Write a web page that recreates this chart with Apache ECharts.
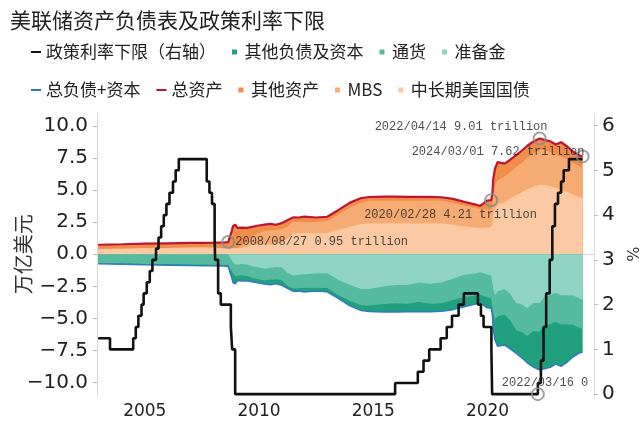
<!DOCTYPE html>
<html><head><meta charset="utf-8">
<script src="https://cdn.jsdelivr.net/npm/echarts@6/dist/echarts.min.js"></script>
<style>html,body{margin:0;padding:0;background:#fff}#c{width:643px;height:427px}</style>
</head><body><div id="c"></div>
<script>
// ---- balance sheet data (trillion USD) ----
const dates = ['2002-12-18','2004-01-07','2005-01-05','2006-01-04','2007-01-03','2007-08-01','2007-12-19','2008-03-26','2008-06-25','2008-08-27','2008-09-17','2008-10-01','2008-10-22','2008-11-12','2008-12-17','2009-01-21','2009-03-25','2009-06-24','2009-09-30','2009-12-30','2010-03-31','2010-06-30','2010-09-29','2010-12-29','2011-03-30','2011-06-29','2011-09-28','2011-12-28','2012-06-27','2012-12-26','2013-06-26','2013-12-25','2014-06-25','2014-10-29','2015-06-24','2015-12-30','2016-06-29','2016-12-28','2017-06-28','2017-12-27','2018-06-27','2018-12-26','2019-06-26','2019-09-04','2019-12-25','2020-02-28','2020-03-18','2020-04-01','2020-04-29','2020-06-10','2020-09-30','2020-12-30','2021-03-31','2021-06-30','2021-09-29','2021-12-29','2022-04-14','2022-06-29','2022-09-28','2022-12-28','2023-03-22','2023-06-28','2023-09-27','2023-12-27','2024-03-01'];
const totalAssets = [0.74,0.78,0.82,0.85,0.88,0.89,0.90,0.91,0.92,0.95,1.10,1.50,1.80,2.20,2.30,2.05,2.08,2.06,2.15,2.24,2.31,2.37,2.30,2.42,2.65,2.87,2.86,2.93,2.86,2.92,3.45,4.02,4.38,4.46,4.49,4.49,4.47,4.47,4.47,4.44,4.31,4.08,3.87,3.76,4.17,4.21,4.67,5.81,6.66,7.17,7.06,7.36,7.70,8.06,8.45,8.76,9.01,8.91,8.80,8.55,8.73,8.39,8.00,7.71,7.62];
const notesBonds = [0.40,0.43,0.46,0.49,0.52,0.53,0.52,0.48,0.46,0.46,0.46,0.46,0.46,0.46,0.46,0.46,0.48,0.60,0.74,0.74,0.75,0.75,0.79,0.95,1.20,1.62,1.66,1.66,1.64,1.66,1.90,2.15,2.35,2.42,2.42,2.42,2.42,2.42,2.42,2.40,2.30,2.16,2.06,2.04,2.08,2.10,2.35,3.00,3.55,3.85,4.05,4.35,4.57,4.80,5.05,5.25,5.40,5.40,5.30,5.15,5.00,4.85,4.65,4.45,4.38];
const mbs = [0,0,0,0,0,0,0,0,0,0,0,0,0,0,0,0,0.24,0.48,0.70,0.91,1.07,1.12,1.10,0.99,0.94,0.92,0.88,0.84,0.87,0.93,1.20,1.49,1.67,1.74,1.75,1.75,1.75,1.74,1.77,1.76,1.71,1.64,1.54,1.50,1.41,1.37,1.37,1.55,1.74,1.90,2.00,2.04,2.20,2.30,2.46,2.62,2.71,2.71,2.69,2.64,2.60,2.55,2.49,2.43,2.40];
const reserves = [0.02,0.02,0.02,0.02,0.02,0.02,0.02,0.02,0.02,0.02,0.10,0.30,0.40,0.60,0.82,0.80,0.75,0.80,0.95,1.03,1.12,1.05,1.00,1.02,1.45,1.65,1.60,1.55,1.50,1.48,2.00,2.40,2.70,2.70,2.50,2.40,2.40,2.20,2.30,2.20,1.90,1.60,1.50,1.40,1.55,1.65,2.20,2.70,3.20,2.90,2.70,3.10,3.80,3.90,4.20,3.80,3.80,3.30,3.20,3.00,3.20,3.20,3.20,3.40,3.55];
const currency = [0.66,0.69,0.73,0.76,0.78,0.78,0.79,0.80,0.81,0.82,0.83,0.84,0.85,0.86,0.87,0.87,0.88,0.90,0.91,0.92,0.93,0.94,0.94,0.98,1.00,1.02,1.04,1.06,1.10,1.15,1.19,1.24,1.28,1.30,1.37,1.42,1.46,1.51,1.55,1.62,1.67,1.72,1.74,1.75,1.80,1.78,1.80,1.85,1.90,1.95,2.00,2.04,2.10,2.15,2.17,2.20,2.22,2.25,2.25,2.26,2.27,2.28,2.29,2.30,2.31];

// ---- policy rate lower bound (%) ----
const rateDates = ['2002-12-18','2003-06-25','2004-06-30','2004-08-10','2004-09-21','2004-11-10','2004-12-14','2005-02-02','2005-03-22','2005-05-03','2005-06-30','2005-08-09','2005-09-20','2005-11-01','2005-12-13','2006-01-31','2006-03-28','2006-05-10','2006-06-29','2007-09-18','2007-10-31','2007-12-11','2008-01-22','2008-01-30','2008-03-18','2008-04-30','2008-10-08','2008-10-29','2008-12-16','2015-12-16','2016-12-14','2017-03-15','2017-06-14','2017-12-13','2018-03-21','2018-06-13','2018-09-26','2018-12-19','2019-07-31','2019-09-18','2019-10-30','2020-03-03','2020-03-15','2022-03-16','2022-05-04','2022-06-15','2022-07-27','2022-09-21','2022-11-02','2022-12-14','2023-02-01','2023-03-22','2023-05-03','2023-07-26','2024-03-01'];
const rateLower = [1.25,1.00,1.25,1.50,1.75,2.00,2.25,2.50,2.75,3.00,3.25,3.50,3.75,4.00,4.25,4.50,4.75,5.00,5.25,4.75,4.50,4.25,3.50,3.00,2.25,2.00,1.50,1.00,0.00,0.25,0.50,0.75,1.00,1.25,1.50,1.75,2.00,2.25,2.00,1.75,1.50,1.00,0.00,0.25,0.75,1.50,2.25,3.00,3.75,4.25,4.50,4.75,5.00,5.25,5.25];

// ---- annotations ----
const annDates = ['2008-08-27','2020-02-28','2022-04-14','2024-03-01'];
const annValues = [0.95,4.21,9.01,7.62];
const annTexts = ['2008/08/27 0.95 trillion','2020/02/28 4.21 trillion','2022/04/14 9.01 trillion','2024/03/01 7.62 trillion'];
const rateAnnDates = ['2022-03-16'];
const rateAnnValues = [0];
const rateAnnTexts = ['2022/03/16 0'];

// tick labels
const xTicks = [2005, 2010, 2015, 2020];
const yLeftTicks = [-10, -7.5, -5, -2.5, 0, 2.5, 5, 7.5, 10];
const yRightTicks = [0, 1, 2, 3, 4, 5, 6];

// ---- helpers ----
function toYear(s){const [y,m,d]=s.split('-').map(Number);const a=Date.UTC(y,0,1),b=Date.UTC(y+1,0,1);return y+(Date.UTC(y,m-1,d)-a)/(b-a);}
const xs = dates.map(toYear);
// cumulative stack boundaries (drawn largest first, each filled to zero)
const cumTsy = notesBonds.slice();
const cumMbs = notesBonds.map((v,i)=>v+mbs[i]);
const cumAll = totalAssets.slice();
const cumRes = reserves.slice();
const cumCur = reserves.map((v,i)=>v+currency[i]);
const cumLiab = totalAssets.slice();
const pos = arr => arr.map((v,i)=>[xs[i], v]);
const neg = arr => arr.map((v,i)=>[xs[i], -v]);

const C = {
  tsy:'#fbc9a4', mbs:'#f6ab72', oth:'#f08d4a',
  res:'#8fd3c3', cur:'#55baa0', ol:'#21a07f',
  tot:'#c0142f', liab:'#2f7dbd', rate:'#111111'
};
const FONT_CJK = '"Noto Sans CJK SC", sans-serif';
const FONT_NUM = '"DejaVu Sans", "Liberation Sans", sans-serif';
const fmtNum = v => (v < 0 ? '\u2212' : '') + Math.abs(v).toFixed(1);

function area(name, data, color, z){
  return {name, type:'line', data, symbol:'none', showSymbol:false, color,
    itemStyle:{color}, lineStyle:{width:0}, areaStyle:{color, opacity:1, origin:0}, z, silent:true};
}

const annOffsets = [[7,0],[-127,15],[-165,-12],[-171,-5]];
const rateAnnOffsets = [[-36,-11]];
const annLabel = {show:true, position:'inside', align:'left', verticalAlign:'middle',
  fontFamily:'"Liberation Mono", "DejaVu Sans Mono", monospace', fontSize:12, color:'#222'};

const LINE_ICON = 'path://M0,0h10v2h-10z';
const SQ_ICON = 'path://M0,0h5v5h-5z';
const legendCommon = {itemWidth:10, itemHeight:5, itemGap:16, itemTextGap:3, selectedMode:false,
  textStyle:{fontFamily:FONT_CJK, fontSize:17, color:'#222', lineHeight:20}, padding:0};

const chart = echarts.init(document.getElementById('c'), null, {renderer:'canvas'});
chart.setOption({
  animation:false,
  backgroundColor:'#fff',
  title:{text:'美联储资产负债表及政策利率下限', left:5, top:5,
    textStyle:{fontFamily:FONT_CJK, fontSize:21, fontWeight:'normal', color:'#222'}},
  legend:[
    Object.assign({left:31, top:42, data:[
      {name:'政策利率下限（右轴）', icon:LINE_ICON},
      {name:'其他负债及资本', icon:SQ_ICON},
      {name:'通货', icon:SQ_ICON},
      {name:'准备金', icon:SQ_ICON}]}, legendCommon),
    Object.assign({left:31, top:80, data:[
      {name:'总负债+资本', icon:LINE_ICON},
      {name:'总资产', icon:LINE_ICON},
      {name:'其他资产', icon:SQ_ICON},
      {name:'MBS', icon:SQ_ICON},
      {name:'中长期美国国债', icon:SQ_ICON}]}, legendCommon)
  ],
  grid:{left:97, right:49, top:113, bottom:31.5, containLabel:false, outerBoundsMode:'none'},
  xAxis:{type:'value', min:2002.91, max:2024.66,
    axisLine:{show:true, lineStyle:{color:'#d9d9d9', width:1}},
    axisTick:{show:true, length:4, customValues:xTicks, lineStyle:{color:'#bbb'}},
    axisLabel:{customValues:xTicks, formatter:v=>String(Math.round(v)), fontFamily:FONT_NUM, fontSize:17, color:'#222', margin:8},
    splitLine:{show:false}},
  yAxis:[
    {type:'value', min:-11, max:11, position:'left',
      name:'万亿美元', nameLocation:'middle', nameRotate:90, nameGap:64, nameMoveOverlap:false,
      nameTextStyle:{fontFamily:FONT_CJK, fontSize:20, color:'#333'},
      axisLine:{show:true, lineStyle:{color:'#d9d9d9'}},
      axisTick:{show:true, length:4, customValues:yLeftTicks, lineStyle:{color:'#bbb'}},
      axisLabel:{customValues:yLeftTicks, formatter:fmtNum, fontFamily:FONT_NUM, fontSize:20, color:'#222', margin:9},
      splitLine:{show:false}},
    {type:'value', min:-0.03, max:6.28, position:'right',
      name:'%', nameLocation:'middle', nameRotate:90, nameGap:33, nameMoveOverlap:false,
      nameTextStyle:{fontFamily:FONT_NUM, fontSize:16, color:'#333'},
      axisLine:{show:true, lineStyle:{color:'#d9d9d9'}},
      axisTick:{show:true, length:4, customValues:yRightTicks, lineStyle:{color:'#bbb'}},
      axisLabel:{customValues:yRightTicks, formatter:v=>String(Math.round(v)), fontFamily:FONT_NUM, fontSize:20, color:'#222', margin:8},
      splitLine:{show:false}}
  ],
  series:[
    area('其他资产', pos(cumAll), C.oth, 1),
    area('MBS', pos(cumMbs), C.mbs, 1),
    area('中长期美国国债', pos(cumTsy), C.tsy, 1),
    area('其他负债及资本', neg(cumLiab), C.ol, 1),
    area('通货', neg(cumCur), C.cur, 1),
    area('准备金', neg(cumRes), C.res, 1),
    {name:'总资产', type:'line', data:pos(totalAssets), symbol:'none', color:C.tot,
      lineStyle:{color:C.tot, width:2.2}, z:3, silent:true},
    {name:'总负债+资本', type:'line', data:neg(totalAssets), symbol:'none', color:C.liab,
      lineStyle:{color:C.liab, width:1.6}, z:3, silent:true},
    {name:'政策利率下限（右轴）', type:'line', yAxisIndex:1, step:'end', symbol:'none', color:C.rate,
      data:rateDates.map((d,i)=>[toYear(d), rateLower[i]]),
      lineStyle:{color:C.rate, width:2.6}, z:4, silent:true},
    {name:'ann', type:'scatter', symbol:'circle', symbolSize:12, z:6, silent:true,
      itemStyle:{color:'rgba(0,0,0,0)', borderColor:'#8a8a8a', borderWidth:2},
      data:annDates.map((d,i)=>({value:[toYear(d), annValues[i]],
        label:Object.assign({}, annLabel, {offset:annOffsets[i], formatter:annTexts[i]})}))},
    {name:'annRate', type:'scatter', yAxisIndex:1, symbol:'circle', symbolSize:12, z:6, silent:true,
      itemStyle:{color:'rgba(0,0,0,0)', borderColor:'#8a8a8a', borderWidth:2},
      data:rateAnnDates.map((d,i)=>({value:[toYear(d), rateAnnValues[i]],
        label:Object.assign({}, annLabel, {offset:rateAnnOffsets[i], formatter:rateAnnTexts[i]})}))}
  ]
});
</script></body></html>
